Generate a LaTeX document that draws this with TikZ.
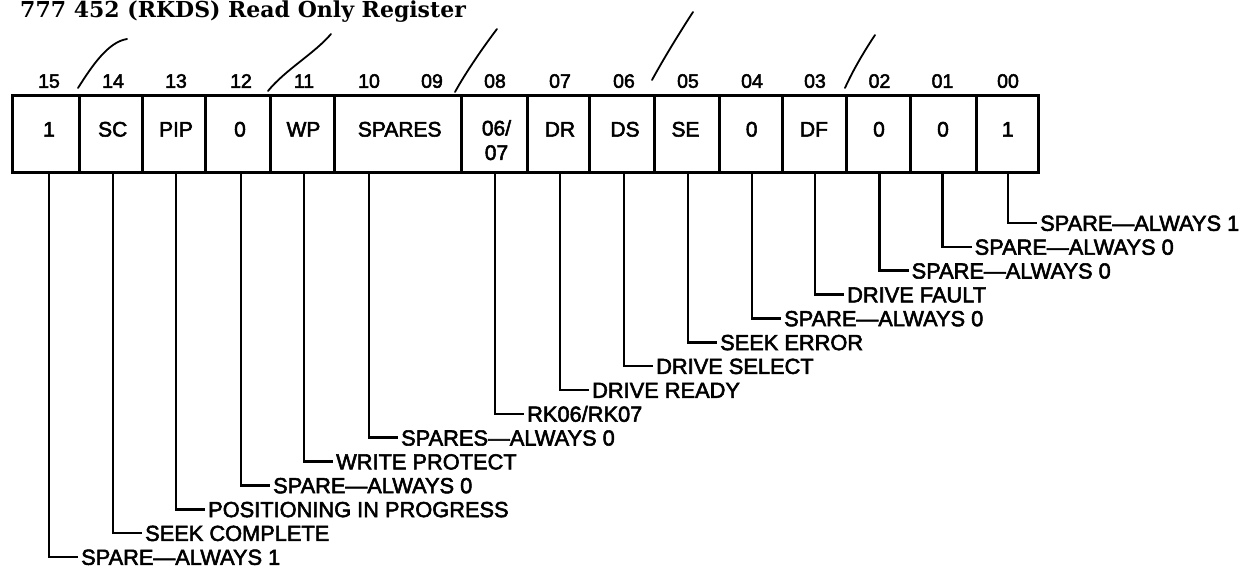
\documentclass[tikz,border=0pt]{standalone}
\usepackage{fontspec}
\setmainfont{Liberation Sans}[FakeBold=2.5]
\newfontfamily\titlefont{DejaVu Serif}
\begin{document}
\begin{tikzpicture}[x=1pt,y=-1pt,
  cell/.style={draw, line width=3pt, minimum height=77pt, inner sep=0pt, outer sep=0pt},
  ctext/.style={font=\fontsize{21}{24.5}\selectfont, inner sep=0pt, text height=15.1pt, text depth=0pt},
  bnum/.style={font=\fontsize{19.5}{22}\selectfont, inner sep=0pt, text height=14pt, text depth=0pt},
  lab/.style={font=\fontsize{21.8}{24}\selectfont, anchor=west, inner sep=3pt, text height=15.6pt, text depth=0pt},
  conn/.style={line width=2.6pt},
  brk/.style={line width=1.8pt, line cap=round}]
\useasboundingbox (0,0) rectangle (1251,568);
\fill[white] (0,0) rectangle (1251,568);

% title
\node[anchor=base west, inner sep=0pt, font=\titlefont\bfseries\fontsize{22}{26}\selectfont] (title) at (20,17) {777 452 (RKDS) Read Only Register};

% cells
\node[cell, minimum width=67pt] (c15) at (45.5,133.5) {};
\node[cell, minimum width=63pt] (c14) at (110.5,133.5) {};
\node[cell, minimum width=63pt] (c13) at (173.5,133.5) {};
\node[cell, minimum width=65pt] (c12) at (237.5,133.5) {};
\node[cell, minimum width=64pt] (c11) at (302,133.5) {};
\node[cell, minimum width=127pt] (cS) at (397.5,133.5) {};
\node[cell, minimum width=66pt] (c08) at (494,133.5) {};
\node[cell, minimum width=62pt] (c07) at (558,133.5) {};
\node[cell, minimum width=65pt] (c06) at (621.5,133.5) {};
\node[cell, minimum width=65pt] (c05) at (686.5,133.5) {};
\node[cell, minimum width=63pt] (c04) at (750.5,133.5) {};
\node[cell, minimum width=64pt] (c03) at (814,133.5) {};
\node[cell, minimum width=64pt] (c02) at (878,133.5) {};
\node[cell, minimum width=66pt] (c01) at (943,133.5) {};
\node[cell, minimum width=62pt] (c00) at (1007,133.5) {};

% cell texts
\node[ctext] (t15) at (49,129) {1};
\node[ctext] (t14) at (112.7,129) {SC};
\node[ctext] (t13) at (176,129) {PIP};
\node[ctext] (t12) at (240,129) {0};
\node[ctext] (t11) at (303.5,129) {WP};
\node[ctext] (tS) at (399.7,129) {SPARES};
\node[font=\fontsize{21}{24.5}\selectfont, inner sep=0pt, align=center, anchor=north] (t08) at (496.5,120) {06/\\07};
\node[ctext] (t07) at (560,129) {DR};
\node[ctext] (t06) at (625,129) {DS};
\node[ctext] (t05) at (685.5,129) {SE};
\node[ctext] (t04) at (751.7,129) {0};
\node[ctext] (t03) at (814,129) {DF};
\node[ctext] (t02) at (879,129) {0};
\node[ctext] (t01) at (943,129) {0};
\node[ctext] (t00) at (1007.7,129) {1};

% bit numbers
\node[bnum] (n15) at (49,80.8) {15};
\node[bnum] (n14) at (113,80.8) {14};
\node[bnum] (n13) at (176,80.8) {13};
\node[bnum] (n12) at (241,80.8) {12};
\node[bnum] (n11) at (304,80.8) {11};
\node[bnum] (n10) at (369,80.8) {10};
\node[bnum] (n09) at (432,80.8) {09};
\node[bnum] (n08) at (495,80.8) {08};
\node[bnum] (n07) at (560,80.8) {07};
\node[bnum] (n06) at (624,80.8) {06};
\node[bnum] (n05) at (688,80.8) {05};
\node[bnum] (n04) at (752,80.8) {04};
\node[bnum] (n03) at (815,80.8) {03};
\node[bnum] (n02) at (879.5,80.8) {02};
\node[bnum] (n01) at (942.5,80.8) {01};
\node[bnum] (n00) at (1008,80.8) {00};

% break marks
\draw[brk] (78,88) .. controls (92,66) and (108,42) .. (127,39);
\draw[brk] (268,91) .. controls (285,70) and (315,53) .. (331,34);
\draw[brk] (455,92) .. controls (466,72) and (484,46) .. (497,29);
\draw[brk] (652,80) .. controls (664,58) and (680,32) .. (693,12);
\draw[brk] (845,88) .. controls (853,70) and (865,50) .. (875,35);

% labels
\node[lab] (l00) at (1037,223) {SPARE—ALWAYS 1};
\node[lab] (l01) at (971.5,246.9) {SPARE—ALWAYS 0};
\node[lab] (l02) at (908.5,270.7) {SPARE—ALWAYS 0};
\node[lab] (l03) at (844,294.6) {DRIVE FAULT};
\node[lab] (l04) at (781,318.4) {SPARE—ALWAYS 0};
\node[lab] (l05) at (717,342.3) {SEEK ERROR};
\node[lab] (l06) at (653,366.1) {DRIVE SELECT};
\node[lab] (l07) at (589,390) {DRIVE READY};
\node[lab] (l08) at (524,413.9) {RK06/RK07};
\node[lab] (lS) at (398,437.7) {SPARES—ALWAYS 0};
\node[lab] (l11) at (333,461.6) {WRITE PROTECT};
\node[lab] (l12) at (270,485.4) {SPARE—ALWAYS 0};
\node[lab] (l13) at (205,509.3) {POSITIONING IN PROGRESS};
\node[lab] (l14) at (142,533.1) {SEEK COMPLETE};
\node[lab] (l15) at (78,557) {SPARE—ALWAYS 1};

% connectors
\draw[conn] (c15.south -| n15) |- (l15.west);
\draw[conn] (c14.south -| n14) |- (l14.west);
\draw[conn] (c13.south -| n13) |- (l13.west);
\draw[conn] (c12.south -| n12) |- (l12.west);
\draw[conn] (c11.south -| n11) |- (l11.west);
\draw[conn] (cS.south -| n10) |- (lS.west);
\draw[conn] (c08.south -| n08) |- (l08.west);
\draw[conn] (c07.south -| n07) |- (l07.west);
\draw[conn] (c06.south -| n06) |- (l06.west);
\draw[conn] (c05.south -| n05) |- (l05.west);
\draw[conn] (c04.south -| n04) |- (l04.west);
\draw[conn] (c03.south -| n03) |- (l03.west);
\draw[conn] (c02.south -| n02) |- (l02.west);
\draw[conn] (c01.south -| n01) |- (l01.west);
\draw[conn] (c00.south -| n00) |- (l00.west);
\end{tikzpicture}
\end{document}
